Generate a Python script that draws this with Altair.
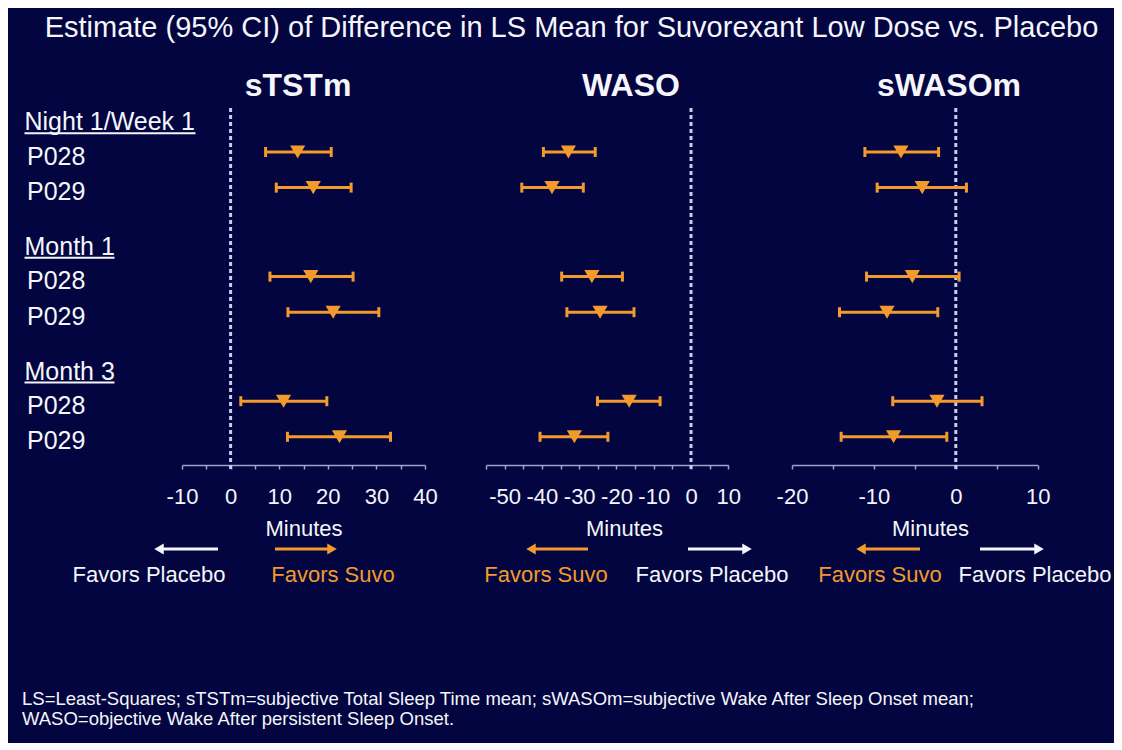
import altair as alt
import pandas as pd

# ---------------- data ----------------
groups = ["Night 1/Week 1", "Month 1", "Month 3"]
studies = ["P028", "P029"]

ststm_est = [13.8, 17.0, 16.5, 21.1, 10.9, 22.4]
ststm_lo = [7.2, 9.4, 8.1, 11.8, 2.1, 11.7]
ststm_hi = [20.7, 24.8, 25.2, 30.5, 19.8, 32.9]

waso_est = [-32.9, -37.3, -26.6, -24.4, -16.6, -31.3]
waso_lo = [-39.6, -45.4, -34.7, -33.3, -25.1, -40.5]
waso_hi = [-25.7, -28.9, -18.4, -15.3, -8.3, -22.3]

swasom_est = [-6.7, -4.1, -5.3, -8.4, -2.3, -7.6]
swasom_lo = [-11.1, -9.6, -10.9, -14.2, -7.7, -14.0]
swasom_hi = [-2.1, 1.3, 0.4, -2.2, 3.2, -1.1]

panel_names = ["sTSTm", "WASO", "sWASOm"]
title_text = "Estimate (95% CI) of Difference in LS Mean for Suvorexant Low Dose vs. Placebo"
axis_title = "Minutes"
favors_suvo = "Favors Suvo"
favors_placebo = "Favors Placebo"
footnote = [
    "LS=Least-Squares; sTSTm=subjective Total Sleep Time mean; sWASOm=subjective Wake After Sleep Onset mean;",
    "WASO=objective Wake After persistent Sleep Onset.",
]

# ---------------- styling ----------------
BG = "#02053f"
ORANGE = "#f39a2e"
WHITE = "#f5f5fb"
AXIS = "#9ea3c9"
ZERO = "#c9cdec"
FONT = "Liberation Sans"

# row keys for data rows
keys = [f"{g}|{s}" for g in groups for s in studies]

# point-scale domain, including spacer slots for the uneven row spacing
y_domain = []
for gi, g in enumerate(groups):
    y_domain += [g, g + "|_a", f"{g}|{studies[0]}", g + "|_b", f"{g}|{studies[1]}"]
    if gi < len(groups) - 1:
        y_domain += [g + "|_c", g + "|_d"]

ysc = alt.Scale(type="point", domain=y_domain, range=[108.4, 428.8], padding=0)


def yenc():
    return alt.Y("row:N", scale=ysc, axis=None)


one = alt.Data(values=[{}])


def panel(name, est, lo, hi, domain, rng, step, title_x, axis_title_x):
    df = pd.DataFrame({"row": keys, "est": est, "lo": lo, "hi": hi})
    sc = alt.Scale(domain=domain, range=rng, nice=False, zero=False)
    ticks = list(range(domain[0], domain[1] + 1, step))
    ax = alt.Axis(
        orient="bottom",
        values=ticks,
        labelExpr="datum.value % 10 === 0 ? '' + datum.value : ''",
        title=axis_title,
        titleX=axis_title_x,
        titleY=70,
        titleAlign="center",
        titleBaseline="alphabetic",
    )
    base = alt.Chart(df)
    bar = base.mark_rule(color=ORANGE, strokeWidth=3).encode(
        x=alt.X("lo:Q", scale=sc, axis=ax), x2="hi:Q", y=yenc()
    )
    cap_lo = base.mark_tick(color=ORANGE, thickness=3, size=10, opacity=1).encode(
        x=alt.X("lo:Q", scale=sc, axis=ax), y=yenc()
    )
    cap_hi = base.mark_tick(color=ORANGE, thickness=3, size=10, opacity=1).encode(
        x=alt.X("hi:Q", scale=sc, axis=ax), y=yenc()
    )
    tri = base.mark_point(
        shape="triangle-down", filled=True, size=230, color=ORANGE, opacity=1
    ).encode(x=alt.X("est:Q", scale=sc, axis=ax), y=yenc())
    zero = alt.Chart(one).mark_rule(
        color=ZERO, strokeWidth=3, strokeDash=[4, 3]
    ).encode(x=alt.XDatum(0, scale=sc, axis=ax), y=alt.value(100), y2=alt.value(461))
    ttl = alt.Chart(one).mark_text(
        text=name, font=FONT, fontSize=32, fontWeight="bold", color=WHITE,
        align="center", baseline="alphabetic"
    ).encode(x=alt.value(title_x), y=alt.value(88))
    return alt.layer(zero, bar, cap_lo, cap_hi, tri, ttl)


p1 = panel("sTSTm", ststm_est, ststm_lo, ststm_hi, [-10, 40], [174, 417], 5, 290, 295.5)
p2 = panel("WASO", waso_est, waso_lo, waso_hi, [-55, 10], [478, 720.3], 5, 623, 616)
p3 = panel("sWASOm", swasom_est, swasom_lo, swasom_hi, [-20, 10], [784, 1029.7], 5, 941, 922)

# row labels
hdr_df = pd.DataFrame({"row": groups, "label": groups})
st_df = pd.DataFrame({"row": keys, "label": [k.split("|")[1] for k in keys]})
hdr_text = alt.Chart(hdr_df).mark_text(
    font=FONT, fontSize=25, color=WHITE, align="left", baseline="alphabetic", dy=14
).encode(x=alt.value(16.5), y=yenc(), text="label:N")
st_text = alt.Chart(st_df).mark_text(
    font=FONT, fontSize=25, color=WHITE, align="left", baseline="alphabetic", dy=12.5
).encode(x=alt.value(19), y=yenc(), text="label:N")

underline_w = {"Night 1/Week 1": 171, "Month 1": 90, "Month 3": 90}
underlines = [
    alt.Chart(alt.Data(values=[{"row": g}])).mark_rule(
        color=WHITE, strokeWidth=2, yOffset=16.8
    ).encode(x=alt.value(16.5), x2=alt.value(16.5 + underline_w[g]), y=yenc())
    for g in groups
]

# title
title = alt.Chart(one).mark_text(
    text=title_text, font=FONT, fontSize=29, color=WHITE, align="center", baseline="alphabetic"
).encode(x=alt.value(563.5), y=alt.value(29))


def arrow(tail, tip, color):
    d = 1 if tip > tail else -1
    line = alt.Chart(one).mark_rule(color=color, strokeWidth=3).encode(
        x=alt.value(tail), x2=alt.value(tip - d * 8), y=alt.value(541)
    )
    head = alt.Chart(one).mark_point(
        shape="triangle-right" if d > 0 else "triangle-left",
        filled=True, size=120, color=color, opacity=1
    ).encode(x=alt.value(tip - d * 6), y=alt.value(541))
    return [line, head]


def label(text, cx, color):
    return alt.Chart(one).mark_text(
        text=text, font=FONT, fontSize=22, color=color, align="center", baseline="alphabetic"
    ).encode(x=alt.value(cx), y=alt.value(573.5))


ann = []
ann += arrow(210, 145, WHITE) + arrow(267, 330, ORANGE)
ann += [label(favors_placebo, 141, WHITE), label(favors_suvo, 325, ORANGE)]
ann += arrow(580, 517, ORANGE) + arrow(680, 745, WHITE)
ann += [label(favors_suvo, 538, ORANGE), label(favors_placebo, 704, WHITE)]
ann += arrow(912, 847, ORANGE) + arrow(972, 1037, WHITE)
ann += [label(favors_suvo, 872, ORANGE), label(favors_placebo, 1027, WHITE)]

foot = alt.Chart(one).mark_text(
    text=footnote, font=FONT, fontSize=18.5, lineHeight=19.5, color=WHITE,
    align="left", baseline="alphabetic"
).encode(x=alt.value(14), y=alt.value(697))

chart = (
    alt.layer(p1, p2, p3, hdr_text, st_text, *underlines, title, *ann, foot)
    .resolve_scale(x="independent")
    .resolve_axis(x="independent")
    .properties(
        width=1106,
        height=457,
        autosize=alt.AutoSizeParams(type="none"),
        padding={"left": 0, "top": 0, "right": 0, "bottom": 278},
        background=BG,
    )
    .configure_view(stroke=None)
    .configure_axis(
        grid=False,
        domainColor=AXIS,
        domainWidth=1.5,
        tickColor=AXIS,
        tickWidth=1.5,
        tickSize=4,
        labelColor=WHITE,
        labelFont=FONT,
        labelFontSize=22,
        labelBaseline="alphabetic",
        labelPadding=34,
        labelFlush=False,
        labelOverlap=False,
        titleColor=WHITE,
        titleFont=FONT,
        titleFontSize=22,
        titleFontWeight="normal",
    )
)

chart.save("out.html", embed_options={"renderer": "svg", "actions": False})
